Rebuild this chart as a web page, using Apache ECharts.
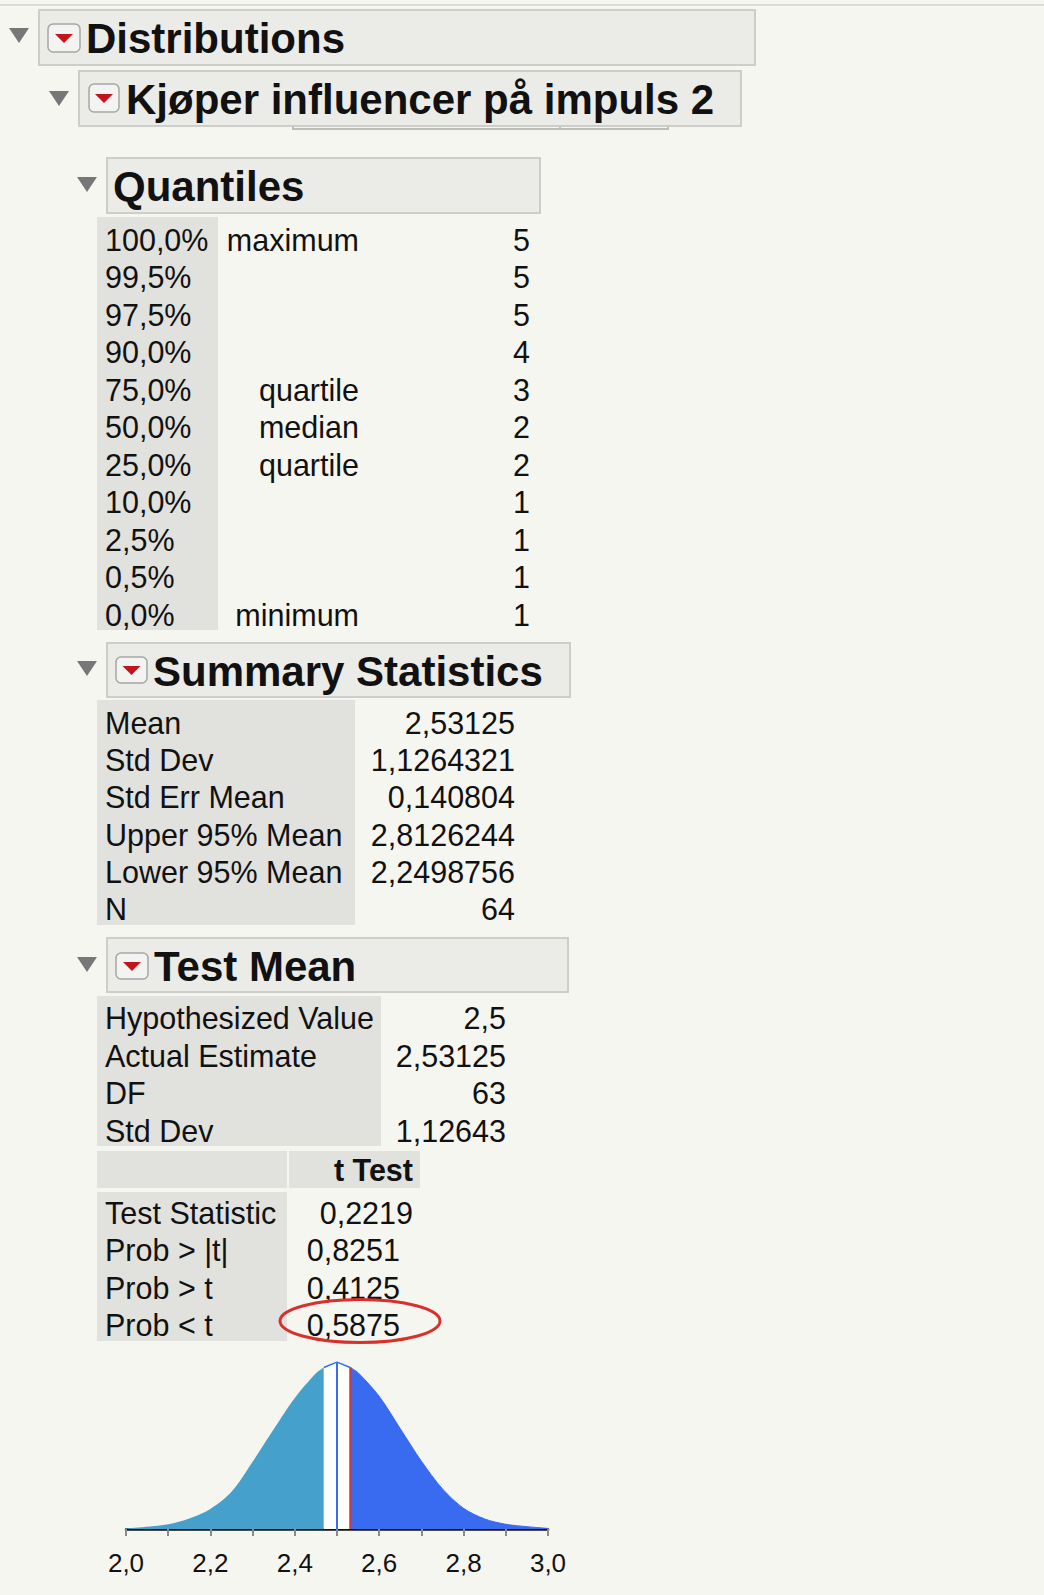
<!DOCTYPE html>
<html>
<head>
<meta charset="utf-8">
<title>Distributions</title>
<script src="https://cdn.jsdelivr.net/npm/echarts@6/dist/echarts.min.js"></script>
<style>
  html, body { margin: 0; padding: 0; background: #f6f6f1; }
  #chart { width: 1044px; height: 1595px; }
</style>
</head>
<body>
<div id="chart"></div>
<script>
// --- tables ---
const quantileLevels = ['100,0%', '99,5%', '97,5%', '90,0%', '75,0%', '50,0%', '25,0%', '10,0%', '2,5%', '0,5%', '0,0%']
const quantileNames = ['maximum', '', '', '', 'quartile', 'median', 'quartile', '', '', '', 'minimum']
const quantileValues = ['5', '5', '5', '4', '3', '2', '2', '1', '1', '1', '1']

const summaryLabels = ['Mean', 'Std Dev', 'Std Err Mean', 'Upper 95% Mean', 'Lower 95% Mean', 'N']
const summaryValues = ['2,53125', '1,1264321', '0,140804', '2,8126244', '2,2498756', '64']

const testLabels = ['Hypothesized Value', 'Actual Estimate', 'DF', 'Std Dev']
const testValues = ['2,5', '2,53125', '63', '1,12643']

const tTestLabels = ['Test Statistic', 'Prob > |t|', 'Prob > t', 'Prob < t']
const tTestValues = ['0,2219', '0,8251', '0,4125', '0,5875']

// --- density curve ---
const densityX = [2.00, 2.05, 2.10, 2.15, 2.20, 2.25, 2.30, 2.35, 2.40, 2.45, 2.46875, 2.50, 2.53125, 2.55, 2.60, 2.65, 2.70, 2.75, 2.80, 2.85, 2.90, 2.95, 3.00]
const densityY = [0.01, 0.04, 0.08, 0.18, 0.34, 0.63, 1.14, 1.69, 2.22, 2.64, 2.74, 2.83, 2.74, 2.65, 2.25, 1.70, 1.15, 0.68, 0.35, 0.17, 0.08, 0.04, 0.01]
const hypothesized = 2.5
const estimate = 2.53125
const lowerCut = 2.46875
const tickLabels = ['2,0', '2,2', '2,4', '2,6', '2,8', '3,0']

const FONT = '"Liberation Sans", Arial, Helvetica, sans-serif'

function txt(x, y, s, opt) {
  opt = opt || {}
  const align = opt.align || 'left'
  return {
    type: 'text',
    silent: true,
    z: 10,
    style: {
      x: x, y: y, text: s,
      font: opt.font || ('30.5px ' + FONT),
      fill: '#111',
      align: align, textAlign: align,
      verticalAlign: 'middle', textVerticalAlign: 'middle'
    }
  }
}

function rect(x, y, w, h, fill, stroke) {
  return {
    type: 'rect', silent: true, z: 1,
    shape: { x: x, y: y, width: w, height: h },
    style: { fill: fill, stroke: stroke || null, lineWidth: stroke ? 2 : 0 }
  }
}

function header(box, tri, icon, title, textX, textY) {
  const els = []
  els.push(rect(box[0], box[1], box[2], box[3], '#ebebe7', '#cdcdc9'))
  els.push({
    type: 'polygon', silent: true, z: 2,
    shape: { points: [[tri[0] - 10, tri[1]], [tri[0] + 10, tri[1]], [tri[0], tri[1] + 15]] },
    style: { fill: '#777' }
  })
  if (icon) {
    els.push({
      type: 'rect', silent: true, z: 2,
      shape: { x: icon[0], y: icon[1], width: icon[2], height: icon[3], r: 5 },
      style: { fill: '#f3f3f1', stroke: '#a6a6a6', lineWidth: 1.5 }
    })
    const cx = icon[0] + icon[2] / 2
    const cy = icon[1] + icon[3] / 2
    els.push({
      type: 'polygon', silent: true, z: 3,
      shape: { points: [[cx - 9, cy - 4], [cx + 9, cy - 4], [cx, cy + 5]] },
      style: { fill: '#c3131b' }
    })
  }
  els.push(txt(textX, textY, title, { font: 'bold 42px ' + FONT }))
  return els
}

let elements = []
// top rule
elements.push({ type: 'line', silent: true, shape: { x1: 0, y1: 5, x2: 1044, y2: 5 }, style: { stroke: '#dcdcd8', lineWidth: 2 } })

elements = elements.concat(header([39, 10, 716, 55], [19, 28], [48, 24, 32, 28], 'Distributions', 86, 38))
elements = elements.concat(header([79, 71, 662, 55], [59, 91], [89, 84, 30, 28], 'Kjøper influencer på impuls 2', 126, 99))
elements.push({
  type: 'polyline', silent: true,
  shape: { points: [[293, 126], [293, 129], [668, 129], [668, 126]] },
  style: { stroke: '#bdbdb9', lineWidth: 2, fill: null }
})
elements.push({ type: 'line', silent: true, shape: { x1: 560, y1: 126, x2: 560, y2: 129 }, style: { stroke: '#bdbdb9', lineWidth: 2 } })

// Quantiles
elements = elements.concat(header([107, 158, 433, 55], [87, 177], null, 'Quantiles', 113, 186))
elements.push(rect(97, 217, 121, 413, '#e1e1dd'))
quantileLevels.forEach(function(q, i) {
  const y = 239.5 + i * 37.5
  elements.push(txt(105, y, q))
  if (quantileNames[i]) elements.push(txt(359, y, quantileNames[i], { align: 'right' }))
  elements.push(txt(530, y, quantileValues[i], { align: 'right' }))
})

// Summary Statistics
elements = elements.concat(header([107, 643, 463, 54], [87, 661], [116, 657, 31, 26], 'Summary Statistics', 153, 671))
elements.push(rect(97, 700, 258, 225, '#e1e1dd'))
summaryLabels.forEach(function(l, i) {
  const y = 722.7 + i * 37.3
  elements.push(txt(105, y, l))
  elements.push(txt(515, y, summaryValues[i], { align: 'right' }))
})

// Test Mean
elements = elements.concat(header([107, 938, 461, 54], [87, 957], [116, 953, 32, 26], 'Test Mean', 154, 966))
elements.push(rect(97, 996, 284, 150, '#e1e1dd'))
testLabels.forEach(function(l, i) {
  const y = 1018.3 + i * 37.5
  elements.push(txt(105, y, l))
  elements.push(txt(506, y, testValues[i], { align: 'right' }))
})

// t Test
elements.push(rect(97, 1151, 190, 37, '#e1e1dd'))
elements.push(rect(289, 1151, 131, 37, '#e1e1dd'))
elements.push(txt(413, 1170, 't Test', { align: 'right', font: 'bold 30.5px ' + FONT }))
elements.push(rect(97, 1192, 190, 149, '#e1e1dd'))
tTestLabels.forEach(function(l, i) {
  const y = 1212.7 + i * 37.5
  elements.push(txt(105, y, l))
  elements.push(txt(i === 0 ? 413 : 400, y, tTestValues[i], { align: 'right' }))
})
elements.push({
  type: 'ellipse', silent: true, z: 12,
  shape: { cx: 360, cy: 1321, rx: 80, ry: 21.5 },
  style: { fill: null, stroke: '#d8302a', lineWidth: 3 }
})

// --- curve pieces ---
const pts = densityX.map(function(x, i) { return [x, densityY[i]] })
const lowPart = pts.filter(function(p) { return p[0] <= lowerCut + 1e-9 })
const midPart = pts.filter(function(p) { return p[0] >= lowerCut - 1e-9 && p[0] <= estimate + 1e-9 })
const highPart = pts.filter(function(p) { return p[0] >= estimate - 1e-9 })
const peakAt = function(x) { return densityY[densityX.indexOf(x)] }

const option = {
  backgroundColor: '#f6f6f1',
  animation: false,
  graphic: { elements: elements },
  grid: { left: 126, right: 496, top: 1358, bottom: 66, containLabel: false },
  xAxis: {
    type: 'value',
    min: 2,
    max: 3,
    interval: 0.1,
    axisLine: { show: true, onZero: false, lineStyle: { color: '#111', width: 2.5 } },
    axisTick: { show: true, length: 7, lineStyle: { color: '#8a8a8a', width: 2 } },
    axisLabel: {
      margin: 21,
      fontSize: 26,
      fontFamily: FONT,
      color: '#111',
      formatter: function(v) {
        const k = Math.round((v - 2) * 10)
        return k % 2 === 0 ? tickLabels[k / 2] : ''
      }
    },
    splitLine: { show: false }
  },
  yAxis: { type: 'value', min: 0, max: 2.9, show: false },
  series: [
    {
      type: 'line',
      data: lowPart,
      smooth: 0.3,
      symbol: 'none',
      lineStyle: { width: 0 },
      areaStyle: { color: '#45a0cc', opacity: 1 },
      z: 2
    },
    {
      type: 'line',
      data: midPart,
      smooth: false,
      symbol: 'none',
      lineStyle: { color: '#3a6cf0', width: 1.5 },
      areaStyle: { color: '#ffffff', opacity: 1 },
      z: 2,
      markLine: {
        silent: true,
        symbol: 'none',
        label: { show: false },
        data: [
          [{ coord: [hypothesized, 0], lineStyle: { color: '#3a6cf0', width: 2, type: 'solid' } }, { coord: [hypothesized, peakAt(hypothesized)] }],
          [{ coord: [estimate, 0], lineStyle: { color: '#c83a4a', width: 2.5, type: 'solid' } }, { coord: [estimate, peakAt(estimate)] }]
        ]
      }
    },
    {
      type: 'line',
      data: highPart,
      smooth: 0.3,
      symbol: 'none',
      lineStyle: { color: '#386bf0', width: 1 },
      areaStyle: { color: '#386bf0', opacity: 1 },
      z: 2
    }
  ]
}

const chart = echarts.init(document.getElementById('chart'), null, { renderer: 'svg' })
chart.setOption(option)
</script>
</body>
</html>
